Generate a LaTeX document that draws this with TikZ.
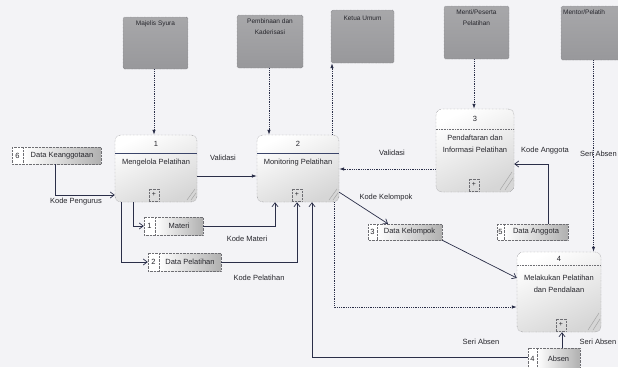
\documentclass[tikz,border=0pt]{standalone}
\usepackage{fontspec}
\setmainfont{Liberation Sans}
\usetikzlibrary{arrows.meta,fit,calc}
\definecolor{bg}{RGB}{243,243,246}
\definecolor{ln}{RGB}{42,46,72}
\definecolor{ent}{RGB}{152,152,155}
\definecolor{txt}{RGB}{38,38,44}
\definecolor{hdr}{RGB}{58,68,105}
\definecolor{bord}{RGB}{110,110,115}
\tikzset{
  entity/.style={inner sep=0, draw=bord, densely dotted, top color=ent!85!white, bottom color=ent, rounded corners=1.5pt},
  entlabel/.style={font=\fontsize{6.5}{11}\selectfont, text=txt, align=center, anchor=north, inner sep=0},
  proc/.style={inner sep=0, draw=bord, densely dotted, rounded corners=6pt, top color=white, bottom color=gray!32, shading angle=25},
  lbl/.style={font=\fontsize{7.5}{11.5}\selectfont, text=txt, inner sep=0, align=center},
  plusbox/.style={draw=bord, densely dotted, inner sep=0, minimum width=10pt, minimum height=12pt, font=\fontsize{7}{8}\selectfont, text=txt},
  solidc/.style={draw=ln, line width=0.7pt},
  dotc/.style={draw=ln, line width=0.8pt, densely dotted},
  openarr/.style={-{Straight Barb[length=4pt,width=6pt]}},
  fillarr/.style={-{Latex[length=5pt,width=3.5pt]}},
  grip/.style={draw=gray!70, line width=0.5pt}
}
\newcommand\dstore[8]{%
  \node[inner sep=0, fit={(#2,#3) (#4,#5)}] (#1) {};
  \shade[left color=white, right color=gray!62] (#6,#3) rectangle (#4,#5);
  \fill[white] (#2,#3) rectangle (#6,#5);
  \draw[bord, densely dotted] (#2,#3) rectangle (#4,#5);
  \draw[bord, densely dotted] (#6,#3) -- (#6,#5);
  \node[lbl] (#1n) at ({(#2+#6)/2},{(#3+#5)/2}) {#7};
  \node[lbl] (#1t) at ({(#6+#4)/2},{(#3+#5)/2}) {#8};
}
\begin{document}
\begin{tikzpicture}[x=1pt,y=-1pt]
\useasboundingbox (0,0) rectangle (618,367);
\fill[bg] (0,0) rectangle (618,367);
\clip (0,0) rectangle (618,367);

% ---------- external entities ----------
\node[entity, fit={(123,17) (188,69)}] (ms) {};
\node[entlabel] (msl) at (155.5,21) {Majelis Syura};
\node[entity, fit={(237,15) (303,68)}] (pk) {};
\node[entlabel] (pkl) at (270,19) {Pembinaan dan\\Kaderisasi};
\node[entity, fit={(331,10) (394,63)}] (ku) {};
\node[entlabel] (kul) at (362.5,16) {Ketua Umum};
\node[entity, fit={(444,6) (509,59)}] (mp) {};
\node[entlabel] (mpl) at (476.5,10) {Menti/Peserta\\Pelatihan};
\node[entity, fit={(561,6) (628,60)}] (mt) {};
\node[entlabel, anchor=north west] (mtl) at (563,10) {Mentor/Pelatih};

% ---------- processes ----------
\node[proc, fit={(115,135) (197,202)}] (p1) {};
\node[lbl] (p1n) at (156,144) {1};
\draw[hdr, line width=0.8pt] (p1.west |- 0,153) -- (p1.east |- 0,153);
\node[lbl] (p1t) at (156,163) {Mengelola Pelatihan};
\node[plusbox, anchor=south] (p1p) at (154,201) {+};
\draw[grip] (187,200) -- (195,189) (191,200) -- (196,193);

\node[proc, fit={(257,135) (339,202)}] (p2) {};
\node[lbl] (p2n) at (298,144) {2};
\draw[hdr, line width=0.8pt] (p2.west |- 0,153) -- (p2.east |- 0,153);
\node[lbl] (p2t) at (298,163) {Monitoring Pelatihan};
\node[plusbox, anchor=south] (p2p) at (297,201) {+};
\draw[grip] (329,200) -- (337,189) (333,200) -- (338,193);

\node[proc, fit={(436,109) (514,192)}] (p3) {};
\node[lbl] (p3n) at (475,119) {3};
\draw[bord, densely dotted, line width=0.6pt] (p3.west |- 0,129) -- (p3.east |- 0,129);
\node[lbl] (p3t) at (475,144) {Pendaftaran dan\\Informasi Pelatihan};
\node[plusbox, anchor=south] (p3p) at (474,191) {+};
\draw[grip] (500,190) -- (512,172) (505,190) -- (513,178);

\node[proc, fit={(517,252) (601,332)}] (p4) {};
\node[lbl] (p4n) at (559,259) {4};
\draw[bord, densely dotted, line width=0.6pt] (p4.west |- 0,265) -- (p4.east |- 0,265);
\node[lbl] (p4t) at (559,284) {Melakukan Pelatihan\\dan Pendalaan};
\node[plusbox, anchor=south] (p4p) at (561,331) {+};
\draw[grip] (588,330) -- (599,313) (593,330) -- (600,319);

% ---------- data stores ----------
\dstore{ds6}{12}{147}{101}{164}{23}{6}{Data Keanggotaan}
\dstore{ds1}{144}{217}{203}{235}{155}{1}{Materi}
\dstore{ds2}{148}{253}{221}{271}{159}{2}{Data Pelatihan}
\dstore{ds3}{368}{224}{442}{240}{377}{3}{Data Kelompok}
\dstore{ds5}{497}{224}{568}{240}{504}{5}{Data Anggota}
\dstore{ds4}{528}{348}{580}{370}{537}{4}{Absen}

% ---------- connectors ----------
\draw[dotc, fillarr] ([xshift=-1.5pt]ms.south) -- ([xshift=-1.5pt]ms.south |- p1.north);
\draw[dotc, fillarr] ([xshift=-1pt]pk.south) -- ([xshift=-1pt]pk.south |- p2.north);
\draw[dotc, fillarr] ([xshift=34pt]p2.north) -- ([xshift=34pt]p2.north |- ku.south);
\draw[dotc, fillarr] ([xshift=-2.5pt]mp.south) -- ([xshift=-2.5pt]mp.south |- p3.north);
\draw[dotc, fillarr] ([xshift=-1pt]mt.south) -- ([xshift=-1pt]mt.south |- p4.north);
\node[lbl, anchor=east] (lsa1) at (617,154) {Seri Absen};

\draw[solidc, openarr] ([xshift=-1.5pt]ds6.south) |- ([yshift=-26.5pt]p1.west);
\node[lbl] (lkp) at (76,202) {Kode Pengurus};

\draw[solidc, fillarr] ([yshift=-7.5pt]p1.east) -- ([yshift=-7.5pt]p2.west);
\node[lbl] (lv1) at (223,158) {Validasi};

\draw[solidc, openarr] ([xshift=-23pt]p1.south) |- (ds1.west);
\draw[solidc, openarr] ([xshift=-35pt]p1.south) |- (ds2.west);

\draw[solidc, openarr] (ds1.east) -| ([xshift=-23pt]p2.south);
\node[lbl] (lkm) at (247,239) {Kode Materi};
\draw[solidc, openarr] (ds2.east) -| ([xshift=-1pt]p2.south);
\node[lbl] (lkpl) at (259,278) {Kode Pelatihan};
\draw[solidc, openarr] ([yshift=2pt]ds4.west) -| ([xshift=14pt]p2.south);
\node[lbl] (lsa2) at (481,342) {Seri Absen};

\draw[dotc, fillarr] ([xshift=36pt]p2.south) |- ([yshift=-15pt]p4.west);

\draw[dotc, fillarr] ([yshift=-18.5pt]p3.west) -- ([yshift=-18.5pt]p3.west -| p2.east);
\node[lbl] (lv2) at (392,153) {Validasi};

\draw[solidc, openarr] ([yshift=10pt]p2.south east) -- ([xshift=-17pt]ds3.north);
\node[lbl] (lkk) at (386,198) {Kode Kelompok};

\draw[solidc, openarr] (ds3.south east) -- ([yshift=14pt]p4.west);

\draw[solidc, openarr] ([xshift=15.5pt]ds5.north) |- ([yshift=-13.5pt]p3.east);
\node[lbl] (lka) at (545,151) {Kode Anggota};

\draw[solidc, openarr] ([xshift=8pt]ds4.north) -- ([xshift=8pt]ds4.north |- p4.south);
\node[lbl] (lsa3) at (598,342) {Seri Absen};
\end{tikzpicture}
\end{document}
